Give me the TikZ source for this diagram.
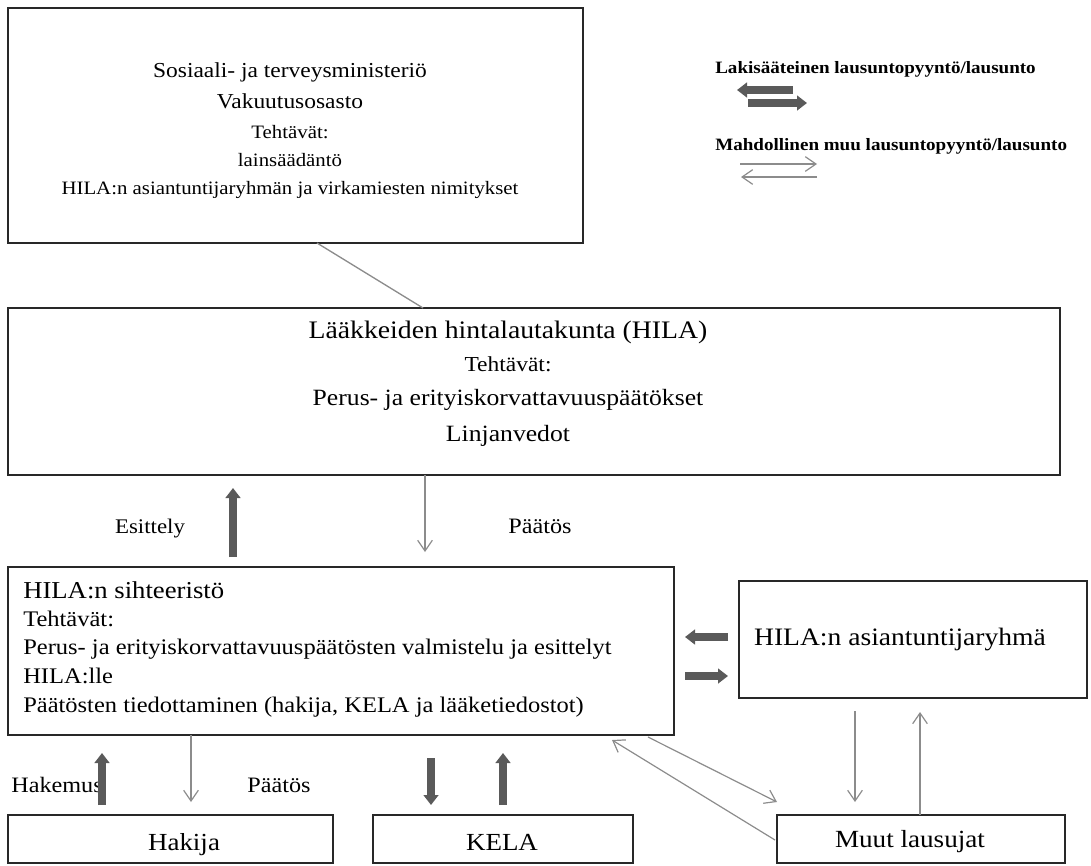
\documentclass[tikz,border=0pt]{standalone}
\usepackage{fontspec}
\setmainfont{Liberation Serif}[FakeStretch=1.1]
\usetikzlibrary{arrows.meta,fit}

\definecolor{boxline}{RGB}{40,40,40}
\definecolor{fatgray}{RGB}{90,90,90}
\definecolor{thingray}{RGB}{140,140,140}

\newcommand{\fsz}[2]{\fontsize{#1}{#2}\selectfont}

\tikzset{
	box/.style={draw=boxline, line width=1.5pt, inner sep=0pt},
	fatarrow/.style={draw=fatgray, line width=5.6pt, -{Triangle[length=7.5pt,width=11pt]}},
	thinarrow/.style={draw=thingray, line width=0.9pt, -{Straight Barb[length=8pt,width=11pt]}},
	link/.style={draw=thingray, line width=1pt},
}

\begin{document}
\begin{tikzpicture}[x=0.75pt,y=0.75pt,yscale=-1,xscale=1]
			\useasboundingbox (0,0) rectangle (1091,865);
			%Shape: Rectangle [ministerio]
			\node[box, fit={(8,8) (583,243)}] (stm) {};
			%Shape: Rectangle [hintalautakunta]
			\node[box, fit={(8,308) (1060,475)}] (hila) {};
			%Shape: Rectangle [sihteeristo]
			\node[box, fit={(8,567) (674,735)}] (siht) {};
			%Shape: Rectangle [asiantuntijaryhma]
			\node[box, fit={(739,581) (1087,698)}] (asiant) {};
			%Shape: Rectangle [hakija, kela, muut]
			\node[box, fit={(8,815) (333,863)}] (hakija) {};
			\node[box, fit={(373,815) (633,863)}] (kela) {};
			\node[box, fit={(777,815) (1065,863)}] (muut) {};

			% Text Node
			\node[anchor=base, align=center, font=\fsz{16}{23}] (stmtitle) at (290,108) {Sosiaali- ja terveysministeriö\\Vakuutusosasto};
			% Text Node
			\node[anchor=base, align=center, font=\fsz{14.2}{21}] (stmtext) at (290,194) {Tehtävät:\\lainsäädäntö\\HILA:n asiantuntijaryhmän ja virkamiesten nimitykset};
			% Text Node
			\node[anchor=base, font=\fsz{18.9}{23}] (hilatitle) at (508,338) {Lääkkeiden hintalautakunta (HILA)};
			\node[anchor=base, font=\fsz{16}{20}] (hilatehtavat) at (508,371) {Tehtävät:};
			\node[anchor=base, font=\fsz{17.5}{20}] (hilaperus) at (508,405) {Perus- ja erityiskorvattavuuspäätökset};
			\node[anchor=base, font=\fsz{17.5}{20}] (hilalinjat) at (508,441) {Linjanvedot};
			% Text Node
			\node[anchor=base west, inner sep=0pt, font=\fsz{18.2}{22}] (sihttitle) at (23,598) {HILA:n sihteeristö};
			\node[anchor=base west, inner sep=0pt, align=left, font=\fsz{16.7}{21.4}] (sihttext) at (23,712) {Tehtävät:\\Perus- ja erityiskorvattavuuspäätösten valmistelu ja esittelyt\\HILA:lle\\Päätösten tiedottaminen (hakija, KELA ja lääketiedostot)};
			% Text Node
			\node[anchor=base, font=\fsz{18.8}{22}] (asianttext) at (900,645) {HILA:n asiantuntijaryhmä};
			\node[anchor=base, font=\fsz{18.4}{22}] (hakijatext) at (184,850) {Hakija};
			\node[anchor=base, font=\fsz{18.4}{22}] (kelatext) at (502,850) {KELA};
			\node[anchor=base, font=\fsz{18.5}{22}] (muuttext) at (910,847) {Muut lausujat};
			% Text Node
			\node[anchor=base, font=\fsz{15.6}{20}] (esittely) at (150,533) {Esittely};
			\node[anchor=base, font=\fsz{16.5}{20}] (paatosA) at (540,533) {Päätös};
			\node[anchor=base, font=\fsz{16.5}{20}] (hakemus) at (57,792) {Hakemus};
			\node[anchor=base, font=\fsz{16.5}{20}] (paatosB) at (279,792) {Päätös};
			% Text Node
			\node[anchor=base west, inner sep=0pt, font=\bfseries\fsz{13}{18}] (legendA) at (715,73) {Lakisääteinen lausuntopyyntö/lausunto};
			\node[anchor=base west, inner sep=0pt, font=\bfseries\fsz{13}{18}] (legendB) at (715,150) {Mahdollinen muu lausuntopyyntö/lausunto};

			%Straight Lines [end points]
			\coordinate (stmlow) at (317,243);
			\coordinate (hilatop) at (423,308);
			\coordinate (esA) at (233,557);
			\coordinate (esB) at (233,488);
			\coordinate (paA) at (425,475);
			\coordinate (paB) at (425,552);
			\coordinate (asA) at (728,637);
			\coordinate (asB) at (685,637);
			\coordinate (asC) at (685,676);
			\coordinate (asD) at (728,676);
			\coordinate (hkA) at (102,805);
			\coordinate (hkB) at (102,753);
			\coordinate (pbA) at (191,735);
			\coordinate (pbB) at (191,802);
			\coordinate (keA) at (431,758);
			\coordinate (keB) at (431,805);
			\coordinate (keC) at (503,805);
			\coordinate (keD) at (503,753);
			\coordinate (muA) at (775,840);
			\coordinate (muB) at (612,740);
			\coordinate (muC) at (648,737);
			\coordinate (muD) at (777,802);
			\coordinate (vrA) at (855,711);
			\coordinate (vrB) at (855,802);
			\coordinate (vrC) at (920,815);
			\coordinate (vrD) at (920,712);
			\coordinate (lgA) at (793,90);
			\coordinate (lgB) at (737,90);
			\coordinate (lgC) at (748,103);
			\coordinate (lgD) at (807,103);
			\coordinate (lgE) at (740,164);
			\coordinate (lgF) at (817,164);
			\coordinate (lgG) at (817,177);
			\coordinate (lgH) at (741,177);

			%Straight Lines
			\draw[link] (stmlow) -- (hilatop);
			\draw[fatarrow] (esA) -- (esB);
			\draw[thinarrow] (paA) -- (paB);
			\draw[fatarrow] (asA) -- (asB);
			\draw[fatarrow] (asC) -- (asD);
			\draw[fatarrow] (hkA) -- (hkB);
			\draw[thinarrow] (pbA) -- (pbB);
			\draw[fatarrow] (keA) -- (keB);
			\draw[fatarrow] (keC) -- (keD);
			\draw[thinarrow] (muA) -- (muB);
			\draw[thinarrow] (muC) -- (muD);
			\draw[thinarrow] (vrA) -- (vrB);
			\draw[thinarrow] (vrC) -- (vrD);
			%Straight Lines [legend]
			\draw[fatarrow] (lgA) -- (lgB);
			\draw[fatarrow] (lgC) -- (lgD);
			\draw[thinarrow] (lgE) -- (lgF);
			\draw[thinarrow] (lgG) -- (lgH);
\end{tikzpicture}
\end{document}
